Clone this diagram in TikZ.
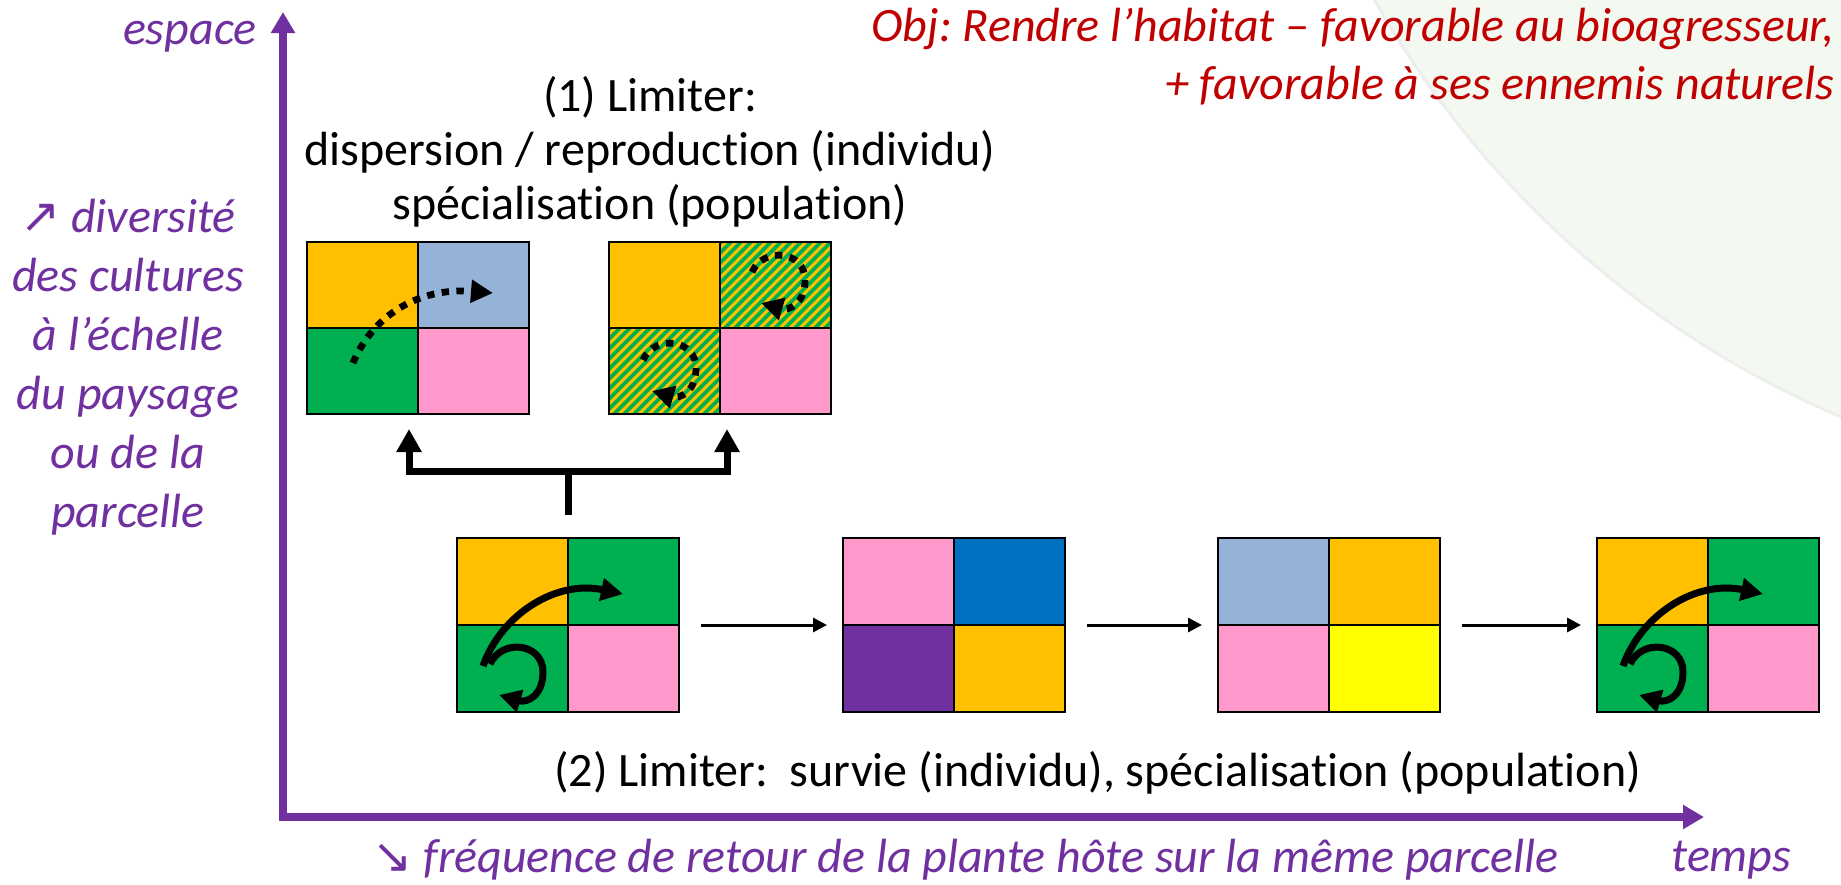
\documentclass[tikz,border=0pt]{standalone}
\usepackage{fontspec}
\setmainfont{Carlito}[Ligatures=NoCommon]
\newfontfamily\symfont{DejaVu Sans}
\usetikzlibrary{arrows.meta,calc}
\frenchspacing

\definecolor{cOrange}{HTML}{FFC000}
\definecolor{cSky}{HTML}{95B3D7}
\definecolor{cGreen}{HTML}{00B050}
\definecolor{cPink}{HTML}{FF99CC}
\definecolor{cBlue}{HTML}{0070C0}
\definecolor{cPurple}{HTML}{7030A0}
\definecolor{cYellow}{HTML}{FFFF00}
\definecolor{cRed}{HTML}{C00000}
\definecolor{cWash}{HTML}{F3F8F1}
\definecolor{cRim}{HTML}{EEEEEE}

% four coloured cells of a field node: NW, NE, SW, SE
\newcommand\plotcells[5]{%
  \fill[#2] (#1.north west) rectangle (#1.center);
  \fill[#3] (#1.north) rectangle (#1.east);
  \fill[#4] (#1.west) rectangle (#1.south);
  \fill[#5] (#1.center) rectangle (#1.south east);}
% black outline and cross of a field node
\newcommand\plotlines[1]{%
  \draw[cellline] (#1.north west) rectangle (#1.south east)
    (#1.north) -- (#1.south) (#1.west) -- (#1.east);}
% mixed cell: green with diagonal orange stripes (SW corner, NE corner)
\newcommand\hatchcell[2]{%
  \begin{scope}
    \clip (#1) rectangle (#2);
    \fill[cGreen] (#1) rectangle (#2);
    \foreach \k in {-140,-130,...,120}
      \draw[cOrange, line width=1.5pt] ($(#1)+(\k,0)$) -- ++(150,-150);
  \end{scope}}

\tikzset{
  field/.style={draw=none, inner sep=0pt, outer sep=0pt,
    minimum width=111pt, minimum height=87pt},
  cellline/.style={black, line width=1pt},
  turnarrow/.style={black, line width=3.5pt,
    -{Triangle[length=11pt,width=11pt]}},
  dotarrow/.style={black, line width=3.4pt, dash pattern=on 3.7pt off 3.7pt,
    -{Triangle[length=11pt,width=11pt]}},
  flow/.style={black, line width=1.5pt, shorten <=11pt, shorten >=8pt,
    -{Triangle[length=7pt,width=7pt]}},
  forkline/.style={black, line width=3.5pt},
  axis/.style={cPurple, line width=4pt,
    {Triangle[length=10.5pt,width=11.5pt]}-{Triangle[length=10.5pt,width=11.5pt]}},
  axislabel/.style={text=cPurple, inner sep=0pt,
    font=\fontsize{24}{27}\selectfont\itshape},
  blacklabel/.style={text=black, inner sep=0pt,
    font=\fontsize{24}{27}\selectfont},
  goal/.style={text=cRed, inner sep=0pt, align=right,
    font=\fontsize{24}{29}\selectfont\itshape},
  pics/hop/.style={code={
    \draw[#1] (26,128) .. controls (45,75) and (100,42) .. (166,56);}},
  pics/dothop/.style={code={
    \draw[#1] (46,121) .. controls (65,75) and (110,45) .. (186,51);}},
  pics/spin/.style={code={
    \draw[#1] (-25,-10) .. controls (-13,-36) and (28,-31) .. (28,-2)
      .. controls (28,22) and (12,29) .. (-16,21);}},
}

\begin{document}
\begin{tikzpicture}[x=0.5pt,y=-0.5pt]
\useasboundingbox (0,0) rectangle (1841,884);

% pale disc of the slide background
\begin{scope}
  \clip (0,0) rectangle (1841,884);
  \fill[cWash] (2221,-478) circle[radius=972];
  \draw[cRim, line width=1.5pt] (2221,-478) circle[radius=972];
\end{scope}

% axes
\coordinate (O) at (283,817);
\coordinate (ytop) at (283,12);
\coordinate (xend) at (1704,817);
\draw[axis] (ytop) -- (O) -- (xend);

% axis labels
\node[axislabel, anchor=base east] (espace) at (257,44) {espace};
\node[axislabel, anchor=base west] (temps) at (1671,871) {temps};
\node[axislabel, anchor=north, align=center,
      font=\fontsize{24}{29.5}\selectfont\itshape] (diversite) at (128,199)
  {{\symfont ↗} diversité\\des cultures\\à l’échelle\\du paysage\\ou de la\\parcelle};
\node[axislabel, anchor=base west] (frequence) at (372,872)
  {{\symfont ↘} fréquence de retour de la plante hôte sur la même parcelle};

% objective
\node[goal, anchor=north east] (obj) at (1835,8)
  {Obj: Rendre l’habitat – favorable au bioagresseur,\\+ favorable à ses ennemis naturels};

% captions
\node[blacklabel, anchor=north, align=center] (lim1) at (650,76)
  {(1) Limiter:\\dispersion / reproduction (individu)\\spécialisation (population)};
\node[blacklabel, anchor=base west] (lim2) at (554,786)
  {(2) Limiter:\ \ survie (individu), spécialisation (population)};

% fields
\node[field, anchor=north west, minimum height=86pt] (gA) at (307,242) {};
\node[field, anchor=north west, minimum height=86pt] (gB) at (609,242) {};
\node[field, anchor=north west] (g1) at (457,538) {};
\node[field, anchor=north west] (g2) at (843,538) {};
\node[field, anchor=north west] (g3) at (1218,538) {};
\node[field, anchor=north west] (g4) at (1597,538) {};

\plotcells{gA}{cOrange}{cSky}{cGreen}{cPink}
\plotcells{gB}{cOrange}{cGreen}{cGreen}{cPink}
\hatchcell{gB.center}{gB.north east}
\hatchcell{gB.south west}{gB.center}
\plotcells{g1}{cOrange}{cGreen}{cGreen}{cPink}
\plotcells{g2}{cPink}{cBlue}{cPurple}{cOrange}
\plotcells{g3}{cSky}{cOrange}{cPink}{cYellow}
\plotcells{g4}{cOrange}{cGreen}{cGreen}{cPink}
\foreach \g in {gA,gB,g1,g2,g3,g4} {\plotlines{\g}}

% movements inside the fields
\pic at (gA.north west) {dothop=dotarrow};
\pic at ($(gB.north west)+(168,40)$) {spin=dotarrow};
\pic at ($(gB.north west)+(59,128)$) {spin=dotarrow};
\pic at (g1.north west) {hop=turnarrow};
\pic at ($(g1.north west)+(58,136)$) {spin=turnarrow};
\pic at (g4.north west) {hop=turnarrow};
\pic at ($(g4.north west)+(58,136)$) {spin=turnarrow};

% fork from the rotation to the two mixtures
\coordinate (fork) at ($(g1.north)+(0,-67)$);
\draw[forkline] ($(g1.north)+(0,-23)$) -- (fork);
\draw[forkline, {Triangle[length=11.5pt,width=12pt]}-{Triangle[length=11.5pt,width=12pt]}]
  ($(gA.south)+(-9,15)$) |- (fork) -| ($(gB.south)+(7,15)$);

% succession in time
\draw[flow] (g1.east) -- (g2.west);
\draw[flow] (g2.east) -- (g3.west);
\draw[flow] (g3.east) -- (g4.west);
\end{tikzpicture}
\end{document}
